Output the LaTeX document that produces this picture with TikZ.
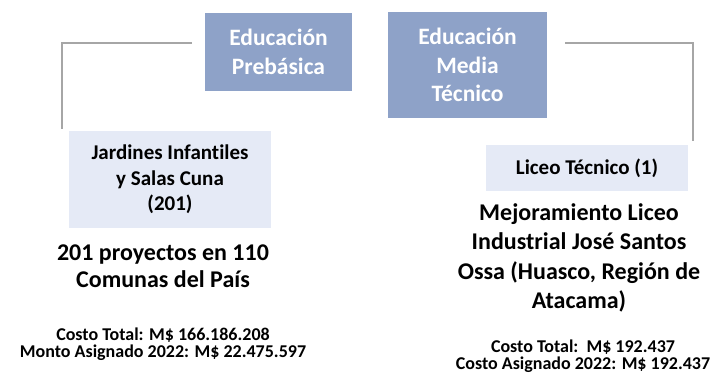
\documentclass[tikz,border=0pt]{standalone}
\usepackage{fontspec}
\setmainfont{Carlito}[Ligatures=CommonOff]
\definecolor{darkbox}{HTML}{8EA2C8}
\definecolor{lightbox}{HTML}{E5EAF6}
\definecolor{connline}{HTML}{A6A6A6}
\tikzset{
  darkstyle/.style={fill=darkbox, text=white, inner sep=0pt, align=center,
    font=\bfseries\fontsize{23.5}{28.5}\selectfont},
  lightstyle/.style={fill=lightbox, text=black, inner sep=0pt, align=center,
    font=\bfseries\fontsize{21}{25.5}\selectfont},
  bigtext/.style={inner sep=0pt, align=center, font=\bfseries\fontsize{24}{26.5}\selectfont},
  bigtextr/.style={inner sep=0pt, align=center, font=\bfseries\fontsize{24}{29.5}\selectfont},
  smalltext/.style={inner sep=0pt, align=center, font=\bfseries\fontsize{18}{16.5}\selectfont},
  conn/.style={draw=connline, line width=1.3pt}
}
\begin{document}
\begin{tikzpicture}[x=1pt,y=-1pt]
\useasboundingbox (0,0) rectangle (712,375);
\node[darkstyle, minimum width=147, minimum height=78] (b1) at (278.5,52) {Educación\\Prebásica};
\node[darkstyle, minimum width=159, minimum height=106] (b2) at (467.5,65) {Educación\\Media\\Técnico};
\node[lightstyle, minimum width=202, minimum height=97] (b3) at (170,179.5) {Jardines Infantiles\\y Salas Cuna\\(201)};
\node[lightstyle, minimum width=202, minimum height=46] (b4) at (587,168) {Liceo Técnico (1)};
\node[bigtext] (t1) at (163,266) {201 proyectos en 110\\Comunas del País};
\node[smalltext] (t2) at (163,344) {Costo Total: M\$ 166.186.208\\Monto Asignado 2022: M\$ 22.475.597};
\node[bigtextr] (t3) at (579,258) {Mejoramiento Liceo\\Industrial José Santos\\Ossa (Huasco, Región de\\Atacama)};
\node[smalltext] (t4) at (583,356) {Costo Total:\ \ M\$ 192.437\\Costo Asignado 2022: M\$ 192.437};
\coordinate (l1) at (192,43);
\coordinate (l2) at (62,43);
\coordinate (l3) at (62,129);
\coordinate (r1) at (565,43);
\coordinate (r2) at (693,43);
\coordinate (r3) at (693,141);
\draw[conn] (l1) -- (l2) -- (l3);
\draw[conn] (r1) -- (r2) -- (r3);
\end{tikzpicture}
\end{document}
